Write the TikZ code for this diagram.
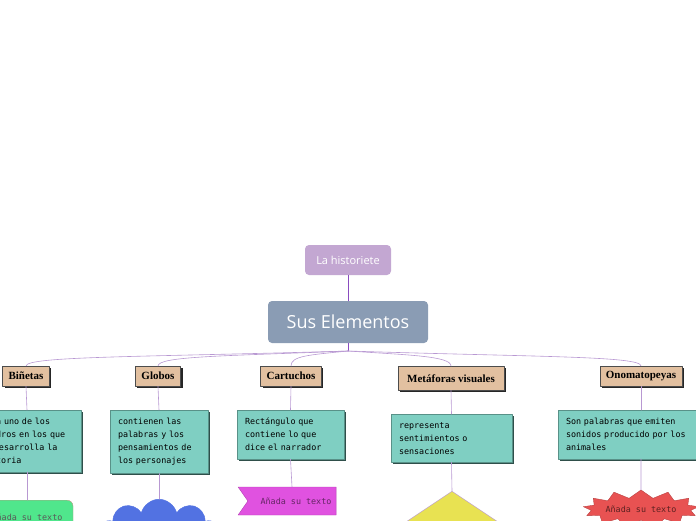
\documentclass[tikz,border=0pt]{standalone}
\usepackage{fontspec}
\newfontfamily\titlefont{Open Sans}
\newfontfamily\rubrofont{Liberation Serif}
\newfontfamily\notefont{DejaVu Sans Mono}
\usetikzlibrary{shapes.symbols,shapes.geometric,shadows}
\definecolor{histcol}{HTML}{C3A7D2}
\definecolor{rootcol}{HTML}{8A9CB4}
\definecolor{tancol}{HTML}{E2C0A0}
\definecolor{tealcol}{HTML}{7FCFC2}
\definecolor{tealdark}{HTML}{2F4F4A}
\definecolor{linkcol}{HTML}{B898D2}
\definecolor{trunkcol}{HTML}{8A4CC0}
\definecolor{greencol}{HTML}{50E68C}
\definecolor{cloudcol}{HTML}{5272E2}
\definecolor{pinkcol}{HTML}{E052E0}
\definecolor{yellowcol}{HTML}{E8E252}
\definecolor{redcol}{HTML}{E85252}

\begin{document}
\begin{tikzpicture}[line cap=round,line join=round,x=1pt,y=-1pt,
  topic/.style={rounded corners=4pt,text=white,inner sep=0pt},
  rubro/.style={fill=tancol,draw=black!70,line width=.4pt,inner xsep=6pt,
    minimum height=20pt,anchor=north,font=\rubrofont\bfseries\fontsize{11}{12}\selectfont,
    drop shadow={shadow xshift=2pt,shadow yshift=-2pt,fill=black!85,opacity=1}},
  idea/.style={fill=tealcol,draw=tealcol!70!black,line width=.4pt,inner xsep=8pt,
    inner ysep=8pt,anchor=north,align=left,font=\notefont\fontsize{8.4}{13}\selectfont,
    drop shadow={shadow xshift=2pt,shadow yshift=-2pt,fill=tealdark,opacity=1}},
  extra/.style={font=\notefont\fontsize{8.4}{10}\selectfont,inner sep=0pt},
  link/.style={linkcol,line width=.6pt}]
\useasboundingbox (0,0) rectangle (696,520);
\clip (0,0) rectangle (696,520);

% centro
\node[topic,fill=histcol,minimum width=86pt,minimum height=30pt,
  font=\titlefont\fontsize{11}{12}\selectfont] (hist) at (348,260) {La historiete};
\node[topic,fill=rootcol,minimum width=160pt,minimum height=42pt,
  font=\titlefont\fontsize{18}{20}\selectfont] (root) at (348,322) {Sus Elementos};
\draw[trunkcol,line width=.7pt] (hist.south) -- (root.north);
\coordinate (hub) at (348,351);
\draw[trunkcol,line width=.7pt] (root.south) -- (hub);

% ramas
\node[rubro] (bin) at (26,366) {Biñetas};
\node[rubro] (glo) at (158,366) {Globos};
\node[rubro] (car) at (291,366) {Cartuchos};
\node[rubro,minimum height=24pt,inner xsep=9pt] (met) at (451,366) {Metáforas visuales};
\node[rubro] (ono) at (641,366) {Onomatopeyas};
\draw[link] (hub) .. controls +(-200,6) and +(0,-10) .. (bin.north);
\draw[link] (hub) .. controls +(-120,5) and +(0,-10) .. (glo.north);
\draw[link] (hub) .. controls +(-40,4) and +(0,-10) .. (car.north);
\draw[link] (hub) .. controls +(60,4) and +(0,-10) .. (met.north);
\draw[link] (hub) .. controls +(190,6) and +(0,-10) .. (ono.north);

% descripciones
\node[idea,text width=92pt] (bin-d) at (27,410) {Cada uno de los\\cuadros en los que\\se desarrolla la\\historia};
\node[idea,text width=82pt] (glo-d) at (159,410) {contienen las\\palabras y los\\pensamientos de\\los personajes};
\node[idea,text width=91pt] (car-d) at (290.5,410) {Rectángulo que\\contiene lo que\\dice el narrador};
\node[idea,text width=105pt] (met-d) at (451.5,414) {representa\\sentimientos o\\sensaciones};
\node[idea,text width=150pt] (ono-d) at (641,410) {Son palabras que emiten\\sonidos producido por los\\animales};
\foreach \n in {bin,glo,car,met,ono}
  \draw[link] (\n.south) -- (\n-d.north);

% formas
\node[extra,rectangle,rounded corners=6pt,fill=greencol,draw=tancol!80!black,
  minimum width=92pt,minimum height=34pt,anchor=north,text=black!65] (bin-s) at (27,500) {Añada su texto};
\node[cloud,cloud puffs=10,aspect=2,fill=cloudcol,draw=cloudcol,
  minimum width=120pt,minimum height=72pt,anchor=north] (glo-s) at (159,499) {};
\node[extra,signal,signal from=west,signal to=nowhere,signal pointer angle=110,
  fill=pinkcol,draw=pinkcol!80!black,minimum width=98pt,minimum height=28pt,text=pinkcol!45!black] (car-s) at (292,501) {\hspace*{8pt}Añada su texto};
\node[diamond,fill=yellowcol,draw=linkcol,minimum width=150pt,minimum height=100pt,
  inner sep=0pt,anchor=north] (met-s) at (452,491) {};
\node[extra,starburst,starburst points=13,starburst point height=8pt,random starburst=0,
  fill=redcol,draw=redcol!80!black,minimum width=80pt,minimum height=38pt,text=redcol!40!black] (ono-s) at (641,509) {Añada su texto};
\foreach \n in {bin,glo,car,met,ono}
  \draw[link] (\n-d.south) -- (\n-s.north);
\end{tikzpicture}
\end{document}
